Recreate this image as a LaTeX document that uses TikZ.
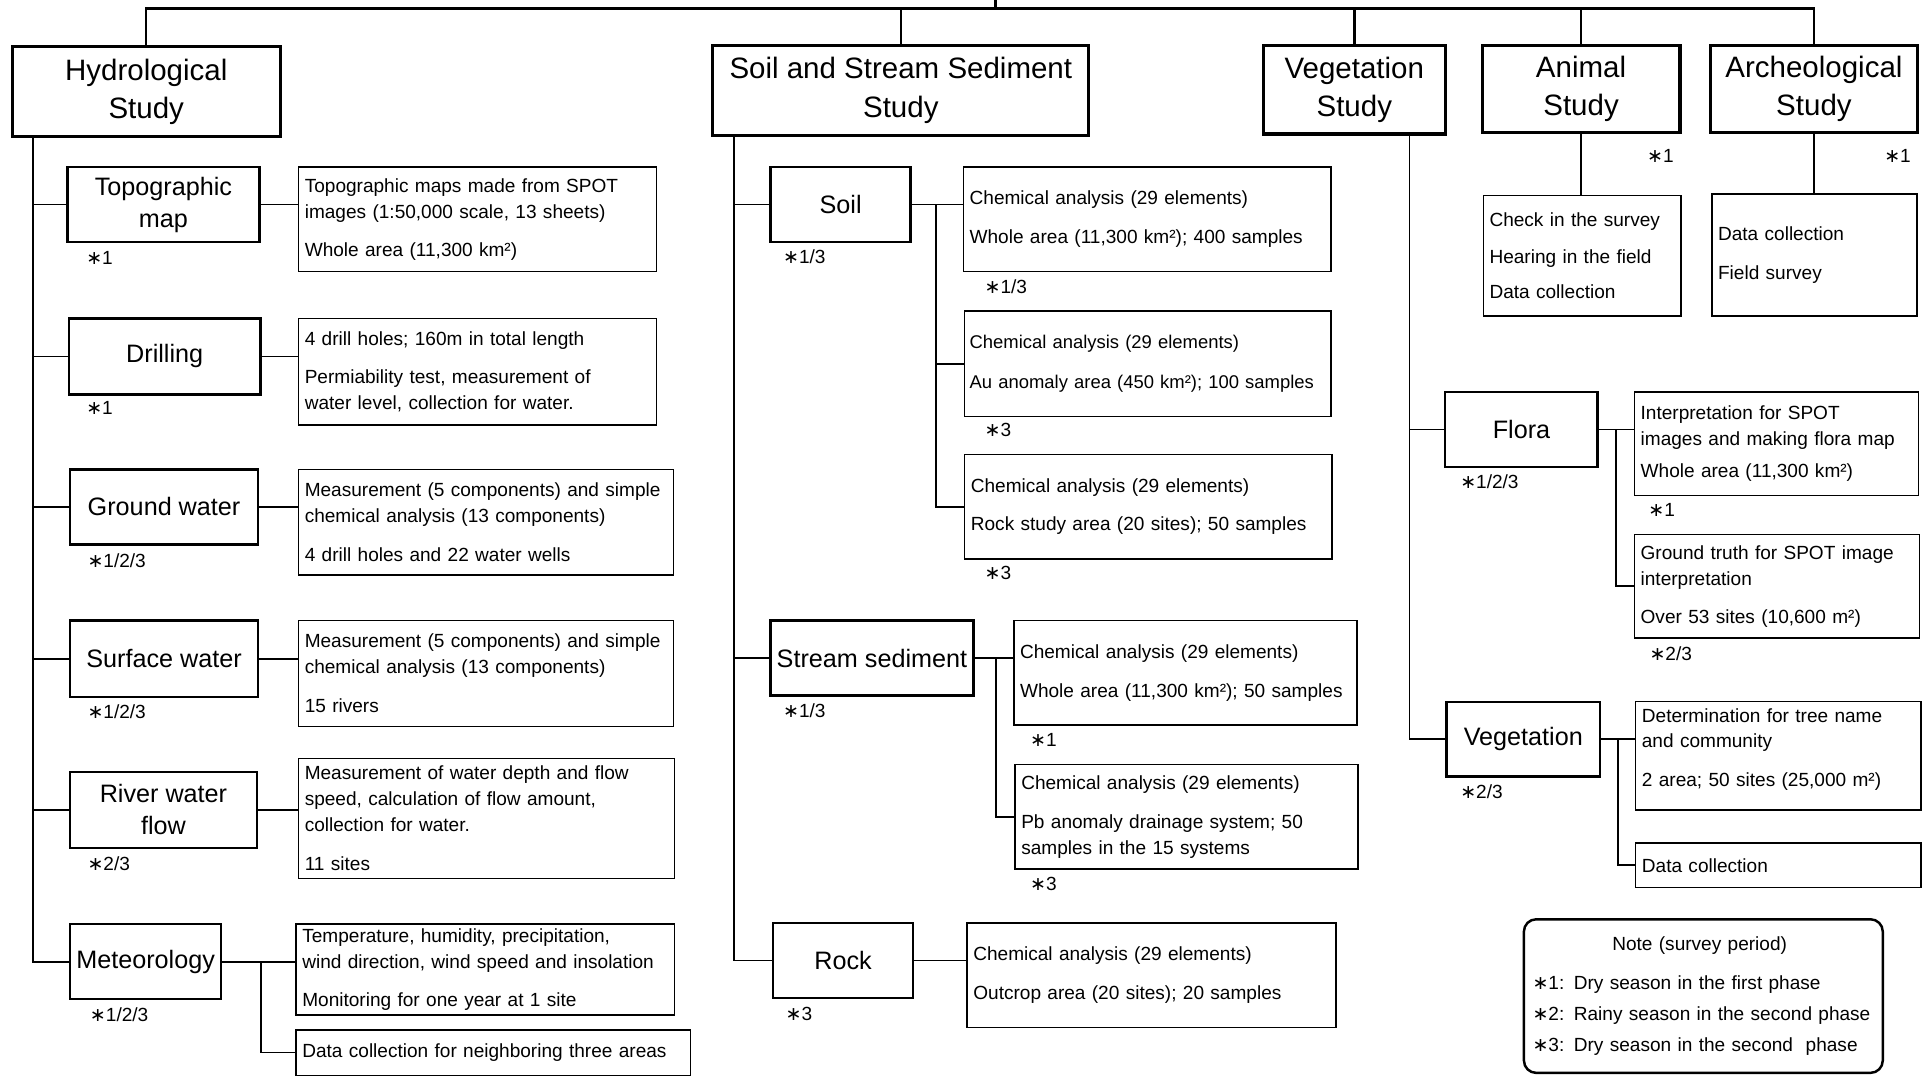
\documentclass[tikz,border=0pt]{standalone}
\usepackage{fontspec}
\setmainfont{Liberation Sans}
\newfontfamily\djv{DejaVu Sans}
\usetikzlibrary{calc}
\newcommand{\stt}{{\djv\char"2217}}
\hyphenpenalty=10000
\exhyphenpenalty=10000
\begin{document}
\begin{tikzpicture}[x=1pt,y=-1pt,
  head/.style={draw, line width=2.6pt, align=center, font=\fontsize{24}{31}\selectfont, inner sep=2pt},
  sub/.style={draw, line width=2pt, align=center, font=\fontsize{20.5}{26}\selectfont, inner sep=2pt},
  det/.style={draw, line width=1.2pt, align=left, font=\fontsize{15.5}{21}\selectfont, inner xsep=5pt, inner ysep=2pt},
  lab/.style={anchor=west, inner sep=0pt, font=\fontsize{15.5}{18}\selectfont},
  conn/.style={line width=1.4pt},
  topc/.style={line width=2pt}]
\fill[white] (0,0) rectangle (1568,876);
\useasboundingbox (0,0) rectangle (1568,876);

% ---- level 1 ----
\node[head, minimum width=218pt, minimum height=73pt] (hyd) at (119,74.5) {Hydrological\\Study};
\node[head, minimum width=306pt, minimum height=73pt] (soilh) at (733,73.5) {Soil and Stream Sediment\\Study};
\node[head, minimum width=148pt, minimum height=72pt] (vegh) at (1102,73) {Vegetation\\Study};
\node[head, minimum width=161pt, minimum height=71pt] (anih) at (1286.5,72.5) {Animal\\Study};
\node[head, minimum width=168pt, minimum height=71pt] (arch) at (1476,72.5) {Archeological\\Study};

% ---- hydrological ----
\node[sub, minimum width=156pt, minimum height=61pt] (topo) at (133,166.5) {Topographic\\map};
\node[sub, minimum width=156pt, minimum height=62pt] (drill) at (134,290) {Drilling};
\node[sub, minimum width=153pt, minimum height=61pt] (ground) at (133.5,412.5) {Ground water};
\node[sub, minimum width=153pt, minimum height=62pt] (surf) at (133.5,536) {Surface water};
\node[sub, minimum width=152pt, minimum height=62pt] (river) at (133,659) {River water\\flow};
\node[sub, minimum width=123pt, minimum height=61pt] (meteo) at (118.5,782.5) {Meteorology};

\node[det, text width=281pt, minimum height=85pt] (topod) at (388.5,178.5) {Topographic maps made from SPOT\\images (1:50,000 scale, 13 sheets)\\[10pt]Whole area (11,300 km²)};
\node[det, text width=281pt, minimum height=87pt] (drilld) at (388.5,302.5) {4 drill holes; 160m in total length\\[10pt]Permiability test, measurement of\\water level, collection for water.};
\node[det, text width=295pt, minimum height=86pt] (groundd) at (395.5,425) {Measurement (5 components) and simple\\chemical analysis (13 components)\\[11pt]4 drill holes and 22 water wells};
\node[det, text width=295pt, minimum height=86pt] (surfd) at (395.5,548) {Measurement (5 components) and simple\\chemical analysis (13 components)\\[11pt]15 rivers};
\node[det, text width=296pt, minimum height=98pt] (riverd) at (396,666) {Measurement of water depth and flow\\speed, calculation of flow amount,\\collection for water.\\[11pt]11 sites};
\node[det, text width=298pt, minimum height=74pt] (metd1) at (395,789) {Temperature, humidity, precipitation,\\wind direction, wind speed and insolation\\[10pt]Monitoring for one year at 1 site};
\node[det, text width=311pt, minimum height=37pt] (metd2) at (401.5,856.5) {Data collection for neighboring three areas};

% ---- soil and stream sediment ----
\node[sub, minimum width=114pt, minimum height=61pt] (soil) at (684,166.5) {Soil};
\node[sub, minimum width=165pt, minimum height=61pt] (stream) at (709.5,535.5) {Stream sediment};
\node[sub, minimum width=114pt, minimum height=61pt] (rock) at (686,781.5) {Rock};

\node[det, text width=289pt, minimum height=85pt] (sd1) at (933.5,178.5) {Chemical analysis (29 elements)\\[11pt]Whole area (11,300 km²); 400 samples};
\node[det, text width=290pt, inner xsep=4pt, minimum height=86pt, font=\fontsize{15}{21}\selectfont] (sd2) at (934,296) {Chemical analysis (29 elements)\\[11pt]\mbox{Au anomaly area (450 km²); 100 samples}};
\node[det, text width=289pt, minimum height=85pt] (sd3) at (934.5,412.5) {Chemical analysis (29 elements)\\[10pt]Rock study area (20 sites); 50 samples};
\node[det, text width=269pt, minimum height=85pt] (std1) at (964.5,547.5) {Chemical analysis (29 elements)\\[11pt]Whole area (11,300 km²); 50 samples};
\node[det, text width=269pt, minimum height=85pt] (std2) at (965.5,664.5) {Chemical analysis (29 elements)\\[11pt]Pb anomaly drainage system; 50\\samples in the 15 systems};
\node[det, text width=290pt, minimum height=85pt] (rd) at (937,793.5) {Chemical analysis (29 elements)\\[11pt]Outcrop area (20 sites); 20 samples};

% ---- vegetation ----
\node[sub, minimum width=124pt, minimum height=61pt] (flora) at (1238,349.5) {Flora};
\node[sub, minimum width=125pt, minimum height=61pt] (veg) at (1239.5,601.5) {Vegetation};
\node[det, text width=221pt, minimum height=84pt] (fd1) at (1445.5,361) {Interpretation for SPOT\\images and making flora map\\[5pt]Whole area (11,300 km²)};
\node[det, text width=222pt, minimum height=84pt] (fd2) at (1446,477) {Ground truth for SPOT image\\interpretation\\[10pt]Over 53 sites (10,600 m²)};
\node[det, text width=222pt, minimum height=88pt] (vd1) at (1447,615) {Determination for tree name\\and community\\[10pt]2 area; 50 sites (25,000 m²)\\[-7pt]\mbox{}};
\node[det, text width=222pt, minimum height=36pt] (vd2) at (1447,704) {Data collection};

% ---- animal / archeological ----
\node[det, text width=151pt, minimum height=98pt] (ad) at (1287.5,208) {Check in the survey\\[9pt]Hearing in the field\\[8pt]Data collection};
\node[det, text width=157pt, minimum height=99pt] (ard) at (1476.5,207.5) {Data collection\\[11pt]Field survey};

% ---- note ----
\node[draw, line width=2pt, rounded corners=10pt, align=left, text width=278pt, minimum height=125pt, inner xsep=7pt, font=\fontsize{15.5}{25}\selectfont] (note) at (1386,810.5) {\makebox[272pt]{Note (survey period)}\\[7pt]\mbox{\stt1: Dry season in the first phase}\\\mbox{\stt2: Rainy season in the second phase}\\\mbox{\stt3: Dry season in the second\ \ phase}};

% ---- labels ----
\node[lab] (ltopo) at (70,210) {\stt1};
\node[lab] (ldrill) at (70,332) {\stt1};
\node[lab] (lground) at (71,456) {\stt1/2/3};
\node[lab] (lsurf) at (71,579) {\stt1/2/3};
\node[lab] (lriver) at (71,703) {\stt2/3};
\node[lab] (lmeteo) at (73,826) {\stt1/2/3};
\node[lab] (lsoil) at (637,209) {\stt1/3};
\node[lab] (lsd1) at (801,233) {\stt1/3};
\node[lab] (lsd2) at (801,350) {\stt3};
\node[lab] (lsd3) at (801,466) {\stt3};
\node[lab] (lstream) at (637,578) {\stt1/3};
\node[lab] (lstd1) at (838,602) {\stt1};
\node[lab] (lstd2) at (838,719) {\stt3};
\node[lab] (lrock) at (639,825) {\stt3};
\node[lab] (lflora) at (1188,392) {\stt1/2/3};
\node[lab] (lfd1) at (1341,415) {\stt1};
\node[lab] (lfd2) at (1342,532) {\stt2/3};
\node[lab] (lveg) at (1188,644) {\stt2/3};
\node[lab] (lani) at (1340,127) {\stt1};
\node[lab] (larch) at (1533,127) {\stt1};

% ---- top connectors ----
\coordinate (root) at (810,0);
\coordinate (bar) at (810,7);
\draw[topc] (root) -- (bar);
\draw[topc] (hyd.north) -- (hyd.north |- bar) -- (arch.north |- bar) -- (arch.north);
\foreach \n in {soilh,vegh,anih} \draw[topc] (\n.north) -- (\n.north |- bar);

% ---- hydrological connectors ----
\coordinate (hsp) at (27,0 |- hyd.south);
\draw[conn] (hsp) |- (meteo.west);
\foreach \n in {topo,drill,ground,surf,river} \draw[conn] (hsp |- \n.west) -- (\n.west);
\foreach \a/\b in {topo/topod,drill/drilld,ground/groundd,surf/surfd,river/riverd,meteo/metd1}
  \draw[conn] (\a.east) -- (\a.east -| \b.west);
\coordinate (mb) at ($(meteo.east)!0.53!(meteo.east -| metd1.west)$);
\draw[conn] (mb) |- (metd2.west);

% ---- soil connectors ----
\coordinate (ssp) at (597,0 |- soilh.south);
\draw[conn] (ssp) |- (rock.west);
\foreach \n in {soil,stream} \draw[conn] (ssp |- \n.west) -- (\n.west);
\draw[conn] (soil.east) -- (soil.east -| sd1.west);
\coordinate (sb) at ($(soil.east)!0.47!(soil.east -| sd1.west)$);
\draw[conn] (sb) |- (sd3.west);
\draw[conn] (sb |- sd2.west) -- (sd2.west);
\draw[conn] (stream.east) -- (stream.east -| std1.west);
\coordinate (stb) at ($(stream.east)!0.55!(stream.east -| std1.west)$);
\draw[conn] (stb) |- (std2.west);
\draw[conn] (rock.east) -- (rock.east -| rd.west);

% ---- vegetation connectors ----
\coordinate (vsp) at (1147,0 |- vegh.south);
\draw[conn] (vsp) |- (veg.west);
\draw[conn] (vsp |- flora.west) -- (flora.west);
\draw[conn] (flora.east) -- (flora.east -| fd1.west);
\coordinate (fb) at ($(flora.east)!0.5!(flora.east -| fd1.west)$);
\draw[conn] (fb) |- (fd2.west);
\draw[conn] (veg.east) -- (veg.east -| vd1.west);
\coordinate (vb) at ($(veg.east)!0.5!(veg.east -| vd1.west)$);
\draw[conn] (vb) |- (vd2.west);

% ---- animal / archeological connectors ----
\draw[conn] (anih.south) -- (anih.south |- ad.north);
\draw[conn] (arch.south) -- (arch.south |- ard.north);
\end{tikzpicture}
\end{document}
